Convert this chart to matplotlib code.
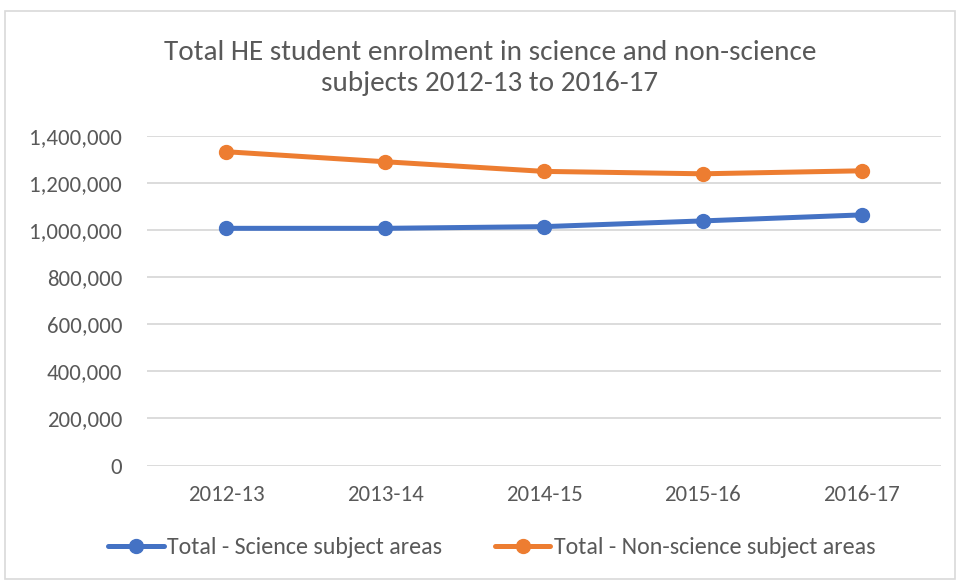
import matplotlib
matplotlib.use('Agg')
import matplotlib.pyplot as plt
from matplotlib.patches import Rectangle
from matplotlib.ticker import FuncFormatter

# data
years = ['2012-13', '2013-14', '2014-15', '2015-16', '2016-17']
science = [1006800, 1006800, 1014000, 1038300, 1063800]
non_science = [1331900, 1289400, 1248500, 1238300, 1251000]
y_ticks = [0, 200000, 400000, 600000, 800000, 1000000, 1200000, 1400000]

BLUE = '#4472C4'
ORANGE = '#ED7D31'
TEXT = '#595959'
GRID = '#D9D9D9'

plt.rcParams['font.family'] = ['Carlito', 'Lato', 'DejaVu Sans']

fig = plt.figure(figsize=(9.57, 5.8), dpi=100)
ax = fig.add_axes([147 / 957, 1 - 465.5 / 580, (941 - 147) / 957, (465.5 - 135.7) / 580])

x = list(range(len(years)))
ax.plot(x, science, color=BLUE, lw=3.6, marker='o', ms=10, solid_capstyle='round',
        label='Total - Science subject areas', zorder=3)
ax.plot(x, non_science, color=ORANGE, lw=3.6, marker='o', ms=10, solid_capstyle='round',
        label='Total - Non-science subject areas', zorder=3)

ax.set_xlim(-0.5, len(years) - 0.5)
ax.set_ylim(0, 1400000)
ax.set_xticks(x)
ax.set_xticklabels(years)
ax.set_yticks(y_ticks)
ax.yaxis.set_major_formatter(FuncFormatter(lambda v, p: f'{int(v):,}'))
ax.tick_params(axis='both', length=0, labelsize=16.5, colors=TEXT)
ax.tick_params(axis='y', pad=18)
ax.tick_params(axis='x', pad=14)
ax.grid(axis='y', color=GRID, lw=1.3)
ax.set_axisbelow(True)
for s in ax.spines.values():
    s.set_visible(False)

fig.text(490 / 957, 1 - 68 / 580,
         'Total HE student enrolment in science and non-science\nsubjects 2012-13 to 2016-17',
         ha='center', va='center', fontsize=21, color=TEXT, linespacing=1.3)

fig.legend(loc='center', bbox_to_anchor=(492 / 957, 1 - 548 / 580), ncol=2, frameon=False,
           fontsize=17.3, labelcolor=TEXT, handlelength=2.3, handletextpad=0.15,
           columnspacing=2.2)

# outer chart border
fig.patches.append(Rectangle((5 / 957, 1 / 580), 950 / 957, 568 / 580, transform=fig.transFigure,
                             fill=False, edgecolor=GRID, lw=1.2))

fig.savefig('out.png', dpi=100)
